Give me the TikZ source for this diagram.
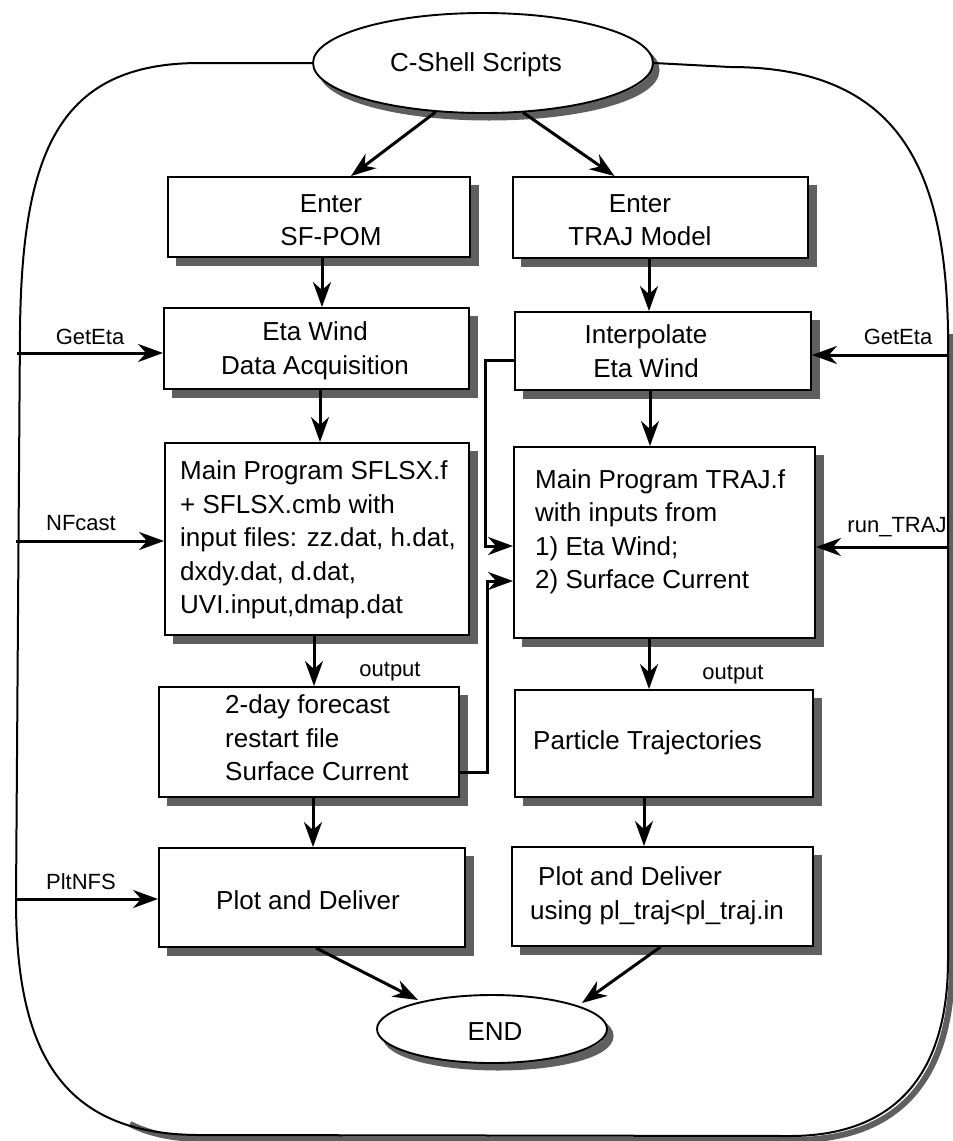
\documentclass[tikz,border=0pt]{standalone}
\usepackage{fontspec}
\setmainfont{Liberation Sans}
\usetikzlibrary{arrows.meta,calc,shapes.geometric}
\definecolor{shc}{RGB}{95,95,95}
\begin{document}
\begin{tikzpicture}[x=1pt,y=-1pt]
\tikzset{
 box/.style={draw, line width=1.9pt, fill=white, inner sep=0pt},
 oval/.style={ellipse, draw, line width=1.9pt, fill=white, inner sep=0pt},
 shadowline/.style={draw=shc, line width=9pt, line join=miter},
 txt/.style={font=\fontsize{26}{33.5}\selectfont, inner sep=0pt},
 lbl/.style={font=\fontsize{22}{26}\selectfont, inner sep=0pt},
 arr/.style={line width=3pt, -{Stealth[length=25pt,width=18pt,inset=8pt]}},
 frame/.style={line width=2pt},
 frameshadow/.style={line width=6pt, draw=shc},
}
\useasboundingbox (0,0) rectangle (953,1141);
\fill[white] (0,0) rectangle (953,1141);

% shadows (drawn first, beneath everything)
\draw[frameshadow] (130,1124) .. controls (150,1134) and (174,1139) .. (204,1139) -- (794,1140) .. controls (894,1140) and (952,1084) .. (952,964) -- (952,334);
\draw[shadowline] (489,70) ellipse [x radius=166, y radius=46];
\draw[shadowline] (498,1036) ellipse [x radius=111, y radius=30];
\draw[shadowline] (176,261) -- (474,261) -- (474,185);
\draw[shadowline] (521,262) -- (812,262) -- (812,185);
\draw[shadowline] (172,393) -- (473,393) -- (473,316);
\draw[shadowline] (523,394) -- (815,394) -- (815,320);
\draw[shadowline] (173,639) -- (473,639) -- (473,451);
\draw[shadowline] (522,642) -- (819,642) -- (819,455);
\draw[shadowline] (167,801) -- (463,801) -- (463,695);
\draw[shadowline] (523,801) -- (817,801) -- (817,698);
\draw[shadowline] (167,951) -- (469,951) -- (469,856);
\draw[shadowline] (520,950) -- (817,950) -- (817,855);

% ellipses
\node[oval, minimum width=340pt, minimum height=100pt] (cs) at (483,63) {};
\node[oval, minimum width=230pt, minimum height=68pt] (end) at (492,1029) {};

% outer frame
\draw[frame] (cs.west) -- (200,63) .. controls (60,63) and (22,150) .. (20,330) -- (16,900)
  .. controls (16,1050) and (60,1135) .. (200,1135) -- (790,1136)
  .. controls (890,1136) and (948,1080) .. (948,960) -- (948,330)
  .. controls (945,170) and (900,67) .. (730,67) -- (cs.east);

% texts of ellipses
\node[txt] (tcs) at (476,65) {C-Shell Scripts};
\node[txt] (tend) at (495,1032) {END};

% boxes
\node[box, minimum width=302pt, minimum height=80pt] (b1) at (319,217) {};
\node[box, minimum width=295pt, minimum height=81pt] (b2) at (660.5,217.5) {};
\node[box, minimum width=305pt, minimum height=81pt] (b3) at (316.5,348.5) {};
\node[box, minimum width=296pt, minimum height=78pt] (b4) at (663,351) {};
\node[box, minimum width=304pt, minimum height=192pt] (b5) at (317,539) {};
\node[box, minimum width=301pt, minimum height=191pt] (b6) at (664.5,542.5) {};
\node[box, minimum width=300pt, minimum height=110pt] (b7) at (309,742) {};
\node[box, minimum width=298pt, minimum height=107pt] (b8) at (664,743.5) {};
\node[box, minimum width=306pt, minimum height=99pt] (b9) at (312,897.5) {};
\node[box, minimum width=301pt, minimum height=99pt] (b10) at (662.5,896.5) {};

% box texts
\node[txt, align=center] (t1) at (331,220) {Enter\\SF-POM};
\node[txt, align=center] (t2) at (640,220) {Enter\\TRAJ Model};
\node[txt, align=center] (t3) at (315,351) {Eta Wind\\Data Acquisition};
\node[txt, align=center] (t4) at (646,351) {Interpolate\\Eta Wind};
\node[txt, align=left, anchor=west] (t5) at (180,540) {Main Program SFLSX.f\\+ SFLSX.cmb with\\input files: zz.dat, h.dat,\\dxdy.dat, d.dat,\\UVI.input,dmap.dat};
\node[txt, align=left, anchor=west] (t6) at (535,532) {Main Program TRAJ.f\\with inputs from\\1) Eta Wind;\\2) Surface Current};
\node[txt, align=left, anchor=west] (t7) at (225,738) {2-day forecast\\restart file\\Surface Current};
\node[txt, anchor=west] (t8) at (533,743) {Particle Trajectories};
\node[txt, anchor=west] (t9) at (216,900) {Plot and Deliver};
\node[txt, align=left, anchor=west] (t10) at (530,896) {\hspace*{8pt}Plot and Deliver\\using pl\_traj<pl\_traj.in};

% side labels
\node[lbl] (lg1) at (90,337) {GetEta};
\node[lbl] (lnf) at (81,523) {NFcast};
\node[lbl] (lpn) at (81,882) {PltNFS};
\node[lbl] (lg2) at (898,337) {GetEta};
\node[lbl] (lrt) at (897,527) {run\_TRAJ};
\node[lbl] (lo1) at (390,672) {output};
\node[lbl] (lo2) at (733,675) {output};

% top arrows
\draw[arr] (cs.226) -- ($(b1.north)+(32,0)$);
\draw[arr] (cs.309) -- ($(b2.north)+(-46,0)$);

% vertical arrows
\coordinate (v1) at (322,0);
\coordinate (v2) at (649,0);
\coordinate (v3) at (320,0);
\coordinate (v4) at (650,0);
\coordinate (v5) at (314,0);
\coordinate (v6) at (649,0);
\coordinate (v7) at (313,0);
\coordinate (v8) at (644,0);
\draw[arr] (b1.south -| v1) -- (b3.north -| v1);
\draw[arr] (b2.south -| v2) -- (b4.north -| v2);
\draw[arr] (b3.south -| v3) -- (b5.north -| v3);
\draw[arr] (b4.south -| v4) -- (b6.north -| v4);
\draw[arr] (b5.south -| v5) -- (b7.north -| v5);
\draw[arr] (b6.south -| v6) -- (b8.north -| v6);
\draw[arr] (b7.south -| v7) -- (b9.north -| v7);
\draw[arr] (b8.south -| v8) -- (b10.north -| v8);

% side arrows
\coordinate (L1) at (17,353);
\coordinate (L2) at (16,541);
\coordinate (L3) at (16,899);
\coordinate (R1) at (949,355);
\coordinate (R2) at (949,547);
\draw[arr] (L1) -- (L1 -| b3.west);
\draw[arr] (L2) -- (L2 -| b5.west);
\draw[arr] (L3) -- (L3 -| b9.west);
\draw[arr] (R1) -- (R1 -| b4.east);
\draw[arr] (R2) -- (R2 -| b6.east);

% elbow connectors
\coordinate (j1) at (485,360);
\coordinate (j2) at (485,546);
\coordinate (j3) at (487,772);
\coordinate (j4) at (487,581);
\draw[arr] (j1 -| b4.west) -- (j1) -- (j2) -- (j2 -| b6.west);
\draw[arr] (j3 -| b7.east) -- (j3) -- (j4) -- (j4 -| b6.west);

% to END
\draw[arr] ($(b9.south)+(4,0)$) -- ($(end.center)+(-74,-29)$);
\draw[arr] ($(b10.south)+(-2,0)$) -- ($(end.center)+(90,-26)$);
\end{tikzpicture}
\end{document}
